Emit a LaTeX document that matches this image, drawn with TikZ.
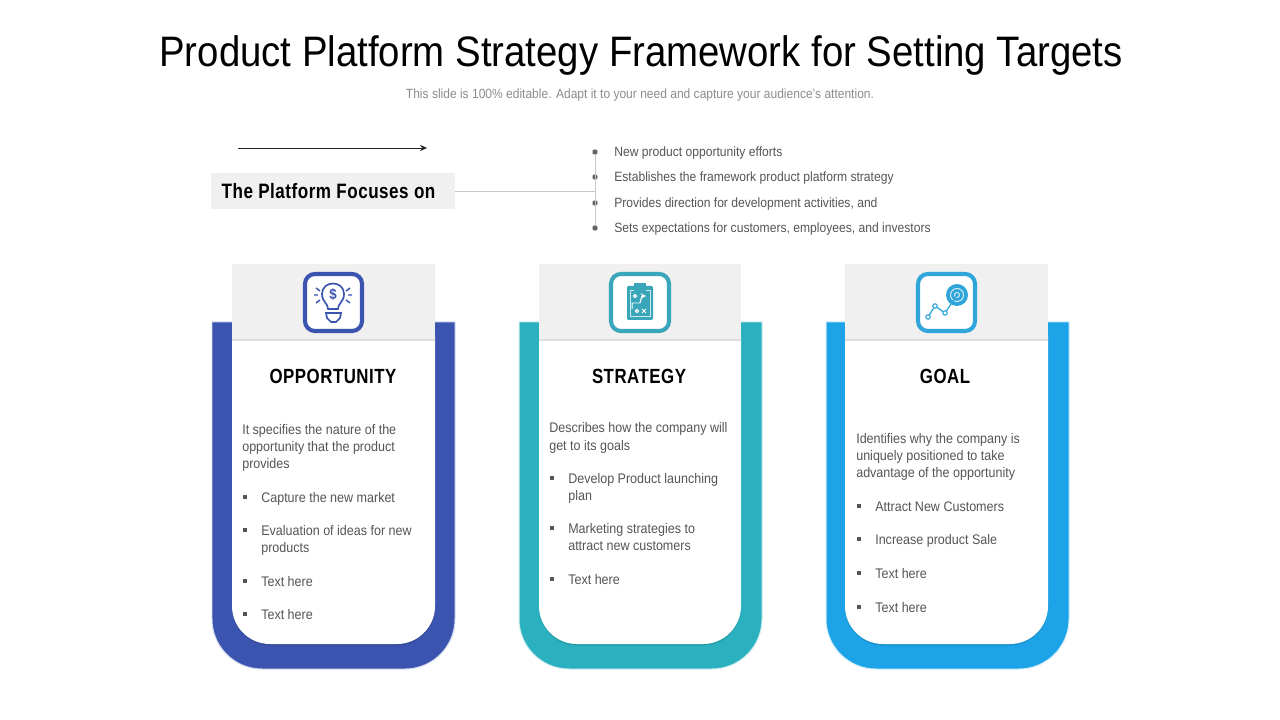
\documentclass[tikz,border=0pt]{standalone}
\usepackage{fontspec}
\usetikzlibrary{arrows.meta}
\setmainfont{Liberation Sans}[FakeStretch=0.9]
\newfontfamily\headfont{Liberation Sans}[FakeStretch=0.82,LetterSpace=2.5]
\definecolor{oppblue}{RGB}{59,84,176}
\definecolor{stratteal}{RGB}{43,176,192}
\definecolor{goalsky}{RGB}{28,163,232}
\definecolor{stratline}{RGB}{58,166,185}
\definecolor{goalline}{RGB}{48,165,218}
\definecolor{bandgray}{RGB}{240,240,240}
\definecolor{bodygray}{RGB}{85,85,85}
\tikzset{
  titletxt/.style={inner sep=0pt,font=\fontsize{30.3}{34}\selectfont,text=black,yshift=-2.5pt},
  subtxt/.style={inner sep=0pt,font=\fontsize{9.5}{11}\selectfont,text=black!45,yshift=-1.2pt},
  headtxt/.style={inner sep=0pt,font=\headfont\bfseries\fontsize{14.6}{18}\selectfont,text=black},
  bodytxt/.style={inner sep=0pt,anchor=west,align=left,font=\fontsize{9.9}{12.1}\selectfont,text=bodygray,yshift=-1pt},
  toptxt/.style={bodytxt,font=\fontsize{9.57}{12.1}\selectfont},
  sqbul/.style={inner sep=0pt,minimum size=2.6pt,fill=bodygray},
  dotbul/.style={circle,inner sep=0pt,minimum size=4.2pt,fill=black!62,draw=black!12,line width=0.4pt},
  panel/.style={fill=white},
  band/.style={fill=bandgray},
  iconbox/.style={fill=white,line width=2.9pt,rounded corners=7pt}
}
\begin{document}
\begin{tikzpicture}[x=0.025cm,y=-0.025cm]
  \useasboundingbox[fill=white] (0,0) rectangle (1280,720);

  \node[titletxt] (title) at (641,52) {Product Platform Strategy Framework for Setting Targets};
  \node[subtxt] (subtitle) at (640,93) {This slide is 100\% editable. Adapt it to your need and capture your audience's attention.};

  % top block
  \coordinate (arrowstart) at (238,148);
  \coordinate (arrowend) at (427,148);
  \draw[-{Stealth[length=5pt,width=4.5pt]},line width=0.6pt,black!85] (arrowstart) -- (arrowend);
  \node[fill=bandgray,minimum width=173.5pt,minimum height=25.6pt,inner sep=0pt,text=black] (focus) at (333,191) {};
  \node[inner sep=0pt,font=\headfont\bfseries\fontsize{14.8}{18}\selectfont] (focustxt) at (328.5,191) {The Platform Focuses on};

  \node[dotbul] (bulA) at (595,152) {};
  \node[dotbul] (bulB) at (595,177) {};
  \node[dotbul] (bulC) at (595,203) {};
  \node[dotbul] (bulD) at (595,228) {};
  \coordinate (trunk) at (595,191);
  \draw[black!22,line width=0.6pt] (bulA) -- (bulD);
  \draw[black!22,line width=0.6pt] (focus) -- (trunk);
  \node[toptxt] (itemA) at (614,152) {New product opportunity efforts};
  \node[toptxt] (itemB) at (614,177) {Establishes the framework product platform strategy};
  \node[toptxt] (itemC) at (614,203) {Provides direction for development activities, and};
  \node[toptxt] (itemD) at (614,228) {Sets expectations for customers, employees, and investors};

  % opportunity
  \draw[fill=oppblue,draw=oppblue!22,line width=0.7pt] (212,322) {[rounded corners=1.25cm] -- (212,669) -- (455,669)} -- (455,322) -- cycle;
  \fill[oppblue!88!black] (232,335) {[rounded corners=0.95cm] -- (232,645.5) -- (435,645.5)} -- (435,335) -- cycle;
  \fill[panel] (232,335) {[rounded corners=0.95cm] -- (232,644) -- (435,644)} -- (435,335) -- cycle;
  \fill[band] (232,264) rectangle (435,340);
  \fill[black!13] (232,339) rectangle (435,341);
  \draw[iconbox,draw=oppblue] (305,274) rectangle (362,331);
  \draw[oppblue,line width=1.2pt] (328,309) .. controls (328,303) and (322,302) .. (322,294) .. controls (322,280) and (344,280) .. (344,294) .. controls (344,302) and (338,303) .. (338,309) -- cycle;
  \draw[oppblue,line width=1.2pt] (326,313) -- (341,313) -- (340,318) -- (336,322) -- (331,322) -- (327,318) -- cycle;
  \node[inner sep=0pt,text=oppblue,font=\bfseries\fontsize{10.5}{12}\selectfont] (dollar) at (333,295) {\$};
  \draw[oppblue,line width=1pt] (314,295) -- (318,295) (316,288) -- (320,291) (316,303) -- (320,300) (352,295) -- (348,295) (350,288) -- (346,291) (350,303) -- (346,300);
  \node[headtxt] (opphead) at (333,376) {OPPORTUNITY};
  \node[bodytxt] (opptxt) at (242,446.5) {It specifies the nature of the\\opportunity that the product\\provides};
  \node[sqbul] at (245,497) {};
  \node[bodytxt] (oppA) at (261,497) {Capture the new market};
  \node[sqbul] at (245,530) {};
  \node[bodytxt] (oppB) at (261,539) {Evaluation of ideas for new\\products};
  \node[sqbul] at (245,581) {};
  \node[bodytxt] (oppC) at (261,580) {Text here};
  \node[sqbul] at (245,614) {};
  \node[bodytxt] (oppD) at (261,613) {Text here};

  % strategy
  \draw[fill=stratteal,draw=stratteal!22,line width=0.7pt] (519,322) {[rounded corners=1.25cm] -- (519,669) -- (762,669)} -- (762,322) -- cycle;
  \fill[stratteal!88!black] (539,335) {[rounded corners=0.95cm] -- (539,645.5) -- (741,645.5)} -- (741,335) -- cycle;
  \fill[panel] (539,335) {[rounded corners=0.95cm] -- (539,644) -- (741,644)} -- (741,335) -- cycle;
  \fill[band] (539,264) rectangle (741,340);
  \fill[black!13] (539,339) rectangle (741,341);
  \draw[iconbox,draw=stratline] (611,274) rectangle (669,331);
  \fill[stratline,rounded corners=1pt] (627,286) rectangle (653,320);
  \fill[stratline] (634,283) rectangle (646,289);
  \draw[white!75!stratline,line width=0.6pt] (634,290) -- (630,290) -- (630,316) -- (650,316) -- (650,290) -- (646,290);
  \draw[white,line width=0.7pt,-stealth] (632,309) -- (632,303) -- (640,303) -- (642,296) -- (646,296);
  \draw[white,line width=0.7pt] (635,296) circle (1.6) (637,311) circle (1.6) (642,309) -- (646,313) (646,309) -- (642,313);
  \node[headtxt] (strathead) at (639,376) {STRATEGY};
  \node[bodytxt] (strattxt) at (549,436.5) {Describes how the company will\\get to its goals};
  \node[sqbul] at (552,478) {};
  \node[bodytxt] (stratA) at (568,487) {Develop Product launching\\plan};
  \node[sqbul] at (552,528) {};
  \node[bodytxt] (stratB) at (568,536) {Marketing strategies to\\attract new customers};
  \node[sqbul] at (552,579) {};
  \node[bodytxt] (stratC) at (568,578) {Text here};

  % goal
  \draw[fill=goalsky,draw=goalsky!22,line width=0.7pt] (826,322) {[rounded corners=1.25cm] -- (826,669) -- (1069,669)} -- (1069,322) -- cycle;
  \fill[goalsky!88!black] (845,335) {[rounded corners=0.95cm] -- (845,645.5) -- (1048,645.5)} -- (1048,335) -- cycle;
  \fill[panel] (845,335) {[rounded corners=0.95cm] -- (845,644) -- (1048,644)} -- (1048,335) -- cycle;
  \fill[band] (845,264) rectangle (1048,340);
  \fill[black!13] (845,339) rectangle (1048,341);
  \draw[iconbox,draw=goalline] (918,274) rectangle (975,331);
  \fill[goalline] (957,295) circle (11);
  \draw[white!80!goalline,line width=0.7pt] (957,295) circle (6.5) (957,295) circle (2.5);
  \draw[goalline,line width=0.9pt] (928,317) -- (935,306) -- (945,313) -- (957,295);
  \draw[goalline,line width=0.8pt,fill=white] (928,317) circle (2.2) (935,306) circle (2.2) (945,313) circle (2.2);
  \node[headtxt] (goalhead) at (945,376) {GOAL};
  \node[bodytxt] (goaltxt) at (856,455.5) {Identifies why the company is\\uniquely positioned to take\\advantage of the opportunity};
  \node[sqbul] at (859,506) {};
  \node[bodytxt] (goalA) at (875,505) {Attract New Customers};
  \node[sqbul] at (859,539) {};
  \node[bodytxt] (goalB) at (875,539) {Increase product Sale};
  \node[sqbul] at (859,573) {};
  \node[bodytxt] (goalC) at (875,572) {Text here};
  \node[sqbul] at (859,607) {};
  \node[bodytxt] (goalD) at (875,606) {Text here};
\end{tikzpicture}
\end{document}
